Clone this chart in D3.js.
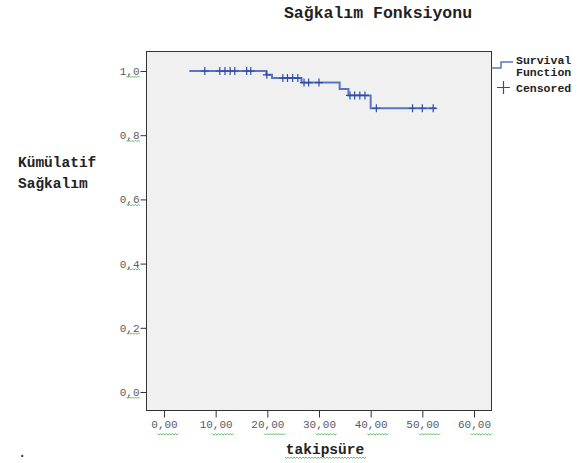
<!DOCTYPE html>
<html><head><meta charset="utf-8">
<script src="https://cdn.jsdelivr.net/npm/d3@7"></script>
<style>body{margin:0;background:#fff}svg{display:block}</style>
</head><body>
<script>
// ---- data ----
const startTime = 4.9;
const endTime = 52.7;
const eventTimes = [19.8, 20.9, 26.6, 34.0, 35.7, 40.0];
const survivalValues = [0.988, 0.978, 0.964, 0.944, 0.924, 0.884];
const censoredTimes = [7.9, 10.8, 11.8, 12.8, 13.7, 16.0, 16.8, 19.9, 23.0, 23.9, 24.9, 25.9, 27.1, 28.0, 30.0, 36.0, 36.9, 37.9, 38.9, 41.1, 48.1, 50.0, 52.1];
const xTicks = [0, 10, 20, 30, 40, 50, 60];
const yTicks = [0, 0.2, 0.4, 0.6, 0.8, 1.0];
const titleText = "Sağkalım Fonksiyonu";
const xLabel = "takipsüre";
const yLabelLines = ["Kümülatif", "Sağkalım"];
const legendLabels = [["Survival", "Function"], ["Censored"]];

const W = 578, H = 463;
const frame = {l: 146.5, r: 491.5, t: 51.5, b: 410.5};
const svg = d3.select("body").append("svg").attr("width", W).attr("height", H);
const font = "'Liberation Mono', 'Courier New', monospace";

const x = d3.scaleLinear().domain([0, 60]).range([164, 474]);
const y = d3.scaleLinear().domain([0, 1]).range([392, 71]);

function S(t) {
  let s = 1;
  for (let i = 0; i < eventTimes.length; i++) if (eventTimes[i] <= t) s = survivalValues[i];
  return s;
}

// frame
svg.append("rect").attr("x", frame.l).attr("y", frame.t)
  .attr("width", frame.r - frame.l).attr("height", frame.b - frame.t)
  .attr("fill", "#f0f0f0").attr("stroke", "#333").attr("stroke-width", 1);

function wavy(x0, x1, yy) {
  let d = `M${x0},${yy}`;
  for (let xx = x0, k = 0; xx < x1; xx += 1.5, k++) d += `L${xx + 1.5},${yy + (k % 2 ? 0 : 1.5)}`;
  svg.append("path").attr("d", d).attr("fill", "none").attr("stroke", "#3cb043").attr("stroke-width", 0.8);
}

// x axis
const xAxis = d3.axisBottom(x).tickValues(xTicks).tickSize(7).tickSizeOuter(0)
  .tickFormat(d => d3.format(".2f")(d).replace(".", ","));
const gx = svg.append("g").attr("transform", `translate(0,${frame.b})`).call(xAxis);
gx.select(".domain").remove();
gx.selectAll(".tick line").attr("stroke", "#333");
gx.selectAll(".tick text").attr("font-family", font).attr("font-size", 11).attr("fill", "#5a5a66").attr("dy", "0.9em").attr("y", 8);
gx.selectAll(".tick").each(function(d) {
  const cx = x(d);
  const s = d3.format(".2f")(d).replace(".", ",");
  const w = s.length * 6.6;
  const intLen = s.indexOf(",") * 6.6;
  wavy(cx - w / 2 + intLen, cx + w / 2, frame.b + 23);
});

// y axis
const yAxis = d3.axisLeft(y).tickValues(yTicks).tickSize(6).tickSizeOuter(0)
  .tickFormat(d => d3.format(".1f")(d).replace(".", ","));
const gy = svg.append("g").attr("transform", `translate(${frame.l},0)`).call(yAxis);
gy.select(".domain").remove();
gy.selectAll(".tick line").attr("stroke", "#333");
gy.selectAll(".tick text").attr("font-family", font).attr("font-size", 11).attr("fill", "#5a5a66").attr("x", -7);
gy.selectAll(".tick").each(function(d) {
  wavy(frame.l - 20, frame.l - 7, y(d) + 5);
});

// survival step curve
const pts = [[startTime, 1]];
eventTimes.forEach((t, i) => pts.push([t, survivalValues[i]]));
pts.push([endTime, survivalValues[survivalValues.length - 1]]);
const line = d3.line().x(d => x(d[0])).y(d => y(d[1])).curve(d3.curveStepAfter);
svg.append("path").datum(pts).attr("d", line).attr("fill", "none")
  .attr("stroke", "#5a74c2").attr("stroke-width", 2);

// censored marks
const cs = 4;
svg.append("g").selectAll("path").data(censoredTimes).join("path")
  .attr("d", t => {
    const cx = x(t), cy = y(S(t));
    return `M${cx - cs},${cy}H${cx + cs}M${cx},${cy - cs}V${cy + cs}`;
  })
  .attr("stroke", "#2f4ba8").attr("stroke-width", 1.2).attr("fill", "none");

// title
svg.append("text").attr("x", 378).attr("y", 18).attr("text-anchor", "middle")
  .attr("font-family", font).attr("font-size", 16.5).attr("font-weight", "bold").attr("fill", "#222")
  .text(titleText);

// x label
svg.append("text").attr("x", 325).attr("y", 454).attr("text-anchor", "middle")
  .attr("font-family", font).attr("font-size", 14.5).attr("font-weight", "bold").attr("fill", "#222")
  .text(xLabel);
wavy(285, 366, 457);

// y label
yLabelLines.forEach((s, i) => {
  svg.append("text").attr("x", 18).attr("y", 167 + i * 21)
    .attr("font-family", font).attr("font-size", 14.5).attr("font-weight", "bold").attr("fill", "#222")
    .text(s);
});

// dot at bottom-left
svg.append("text").attr("x", 18).attr("y", 457).attr("font-family", font).attr("font-size", 14).attr("fill", "#222").text(".");

// legend
const lg = svg.append("g");
lg.append("path").attr("d", `M${frame.r},68H501V62H513`).attr("fill", "none").attr("stroke", "#5a74c2").attr("stroke-width", 1.5);
lg.append("path").attr("d", `M497,87.5H510M503.5,81V94`).attr("fill", "none").attr("stroke", "#2f4ba8").attr("stroke-width", 1.2);
legendLabels[0].forEach((s, i) => {
  lg.append("text").attr("x", 516).attr("y", 64 + i * 11.5)
    .attr("font-family", font).attr("font-size", 11.5).attr("font-weight", "bold").attr("fill", "#222").text(s);
});
lg.append("text").attr("x", 516).attr("y", 91.5)
  .attr("font-family", font).attr("font-size", 11.5).attr("font-weight", "bold").attr("fill", "#222").text(legendLabels[1][0]);
</script>
</body></html>
